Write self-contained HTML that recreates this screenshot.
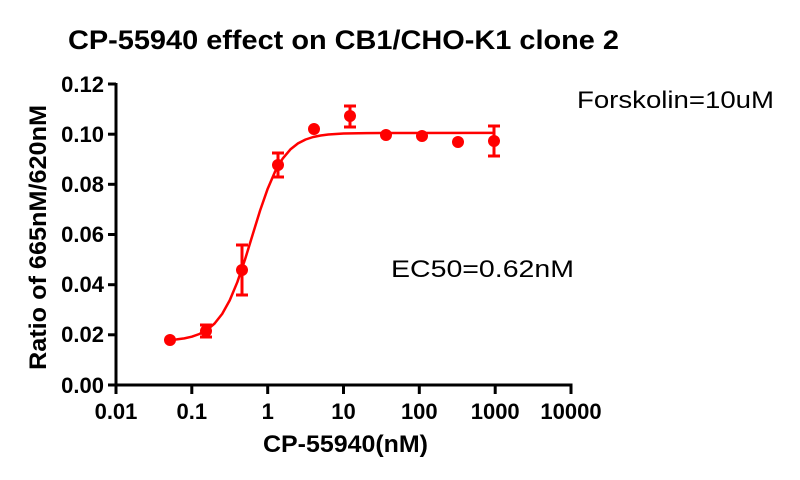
<!DOCTYPE html>
<html>
<head>
<meta charset="utf-8">
<style>
  html, body { margin: 0; padding: 0; background: #fff; }
  svg { display: block; }
  text { font-family: "Liberation Sans", Arial, sans-serif; fill: #000; }
</style>
</head>
<body>
<svg width="800" height="480" viewBox="0 0 800 480" xmlns="http://www.w3.org/2000/svg">
  <rect width="800" height="480" fill="#fff"/>

  <!-- Title -->
  <text x="68" y="49" font-size="27" font-weight="bold" textLength="551" lengthAdjust="spacingAndGlyphs">CP-55940 effect on CB1/CHO-K1 clone 2</text>

  <!-- Axes -->
  <g stroke="#000" stroke-width="3" fill="none" stroke-linecap="butt">
    <line x1="116" y1="83" x2="116" y2="394"/>
    <line x1="108" y1="385" x2="572" y2="385"/>
    <!-- y ticks -->
    <line x1="108" y1="84" x2="116" y2="84"/>
    <line x1="108" y1="134.2" x2="116" y2="134.2"/>
    <line x1="108" y1="184.3" x2="116" y2="184.3"/>
    <line x1="108" y1="234.5" x2="116" y2="234.5"/>
    <line x1="108" y1="284.7" x2="116" y2="284.7"/>
    <line x1="108" y1="334.8" x2="116" y2="334.8"/>
    <!-- x ticks -->
    <line x1="191.8" y1="385" x2="191.8" y2="394"/>
    <line x1="267.7" y1="385" x2="267.7" y2="394"/>
    <line x1="343.5" y1="385" x2="343.5" y2="394"/>
    <line x1="419.3" y1="385" x2="419.3" y2="394"/>
    <line x1="495.2" y1="385" x2="495.2" y2="394"/>
    <line x1="571" y1="383.5" x2="571" y2="394"/>
  </g>

  <!-- Y tick labels -->
  <g font-size="22" font-weight="bold" text-anchor="end">
    <text x="104" y="92">0.12</text>
    <text x="104" y="142">0.10</text>
    <text x="104" y="192">0.08</text>
    <text x="104" y="242">0.06</text>
    <text x="104" y="292">0.04</text>
    <text x="104" y="342">0.02</text>
    <text x="104" y="393">0.00</text>
  </g>

  <!-- X tick labels -->
  <g font-size="22" font-weight="bold" text-anchor="middle">
    <text x="116" y="419">0.01</text>
    <text x="191.8" y="419">0.1</text>
    <text x="267.7" y="419">1</text>
    <text x="343.5" y="419">10</text>
    <text x="419.3" y="419">100</text>
    <text x="495.2" y="419">1000</text>
    <text x="571" y="419">10000</text>
  </g>

  <!-- Axis titles -->
  <text x="263" y="452" font-size="24" font-weight="bold" textLength="165" lengthAdjust="spacingAndGlyphs">CP-55940(nM)</text>
  <text transform="translate(46,370) rotate(-90)" x="0" y="0" font-size="24" font-weight="bold" textLength="265" lengthAdjust="spacingAndGlyphs">Ratio of 665nM/620nM</text>

  <!-- Annotations -->
  <text x="577" y="108" font-size="24" textLength="197" lengthAdjust="spacingAndGlyphs">Forskolin=10uM</text>
  <text x="391" y="277" font-size="24" textLength="183" lengthAdjust="spacingAndGlyphs">EC50=0.62nM</text>

  <!-- Fitted curve -->
  <polyline fill="none" stroke="#ff0000" stroke-width="2.5" stroke-linejoin="round"
    points="169.9,340.0 176.7,339.4 184.3,338.35 191.8,336.7 199.4,334.0 207.0,329.9 214.6,323.5 222.2,313.9 229.7,300.4 237.3,282.2 244.9,259.9 252.5,235.1 260.1,210.5 267.7,188.7 275.2,171.3 282.8,158.4 290.4,149.4 298.0,143.4 305.6,139.5 313.2,137.0 320.7,135.5 328.3,134.5 343.5,133.5 366.3,133.1 400,132.95 494.9,132.9"/>

  <!-- Error bars -->
  <g stroke="#ff0000" stroke-width="3" fill="none">
    <line x1="206" y1="325" x2="206" y2="337"/>
    <line x1="200" y1="325" x2="212" y2="325"/>
    <line x1="200" y1="337" x2="212" y2="337"/>

    <line x1="242" y1="245" x2="242" y2="295"/>
    <line x1="236" y1="245" x2="248" y2="245"/>
    <line x1="236" y1="295" x2="248" y2="295"/>

    <line x1="278" y1="153" x2="278" y2="177"/>
    <line x1="272" y1="153" x2="284" y2="153"/>
    <line x1="272" y1="177" x2="284" y2="177"/>

    <line x1="350" y1="106" x2="350" y2="127"/>
    <line x1="344" y1="106" x2="356" y2="106"/>
    <line x1="344" y1="127" x2="356" y2="127"/>

    <line x1="494" y1="126" x2="494" y2="156"/>
    <line x1="488" y1="126" x2="500" y2="126"/>
    <line x1="488" y1="156" x2="500" y2="156"/>
  </g>

  <!-- Data points -->
  <g fill="#ff0000">
    <circle cx="170" cy="340" r="6"/>
    <circle cx="206" cy="331" r="6"/>
    <circle cx="242" cy="270" r="6"/>
    <circle cx="278" cy="165" r="6"/>
    <circle cx="314" cy="129" r="6"/>
    <circle cx="350" cy="116" r="6"/>
    <circle cx="386" cy="135" r="6"/>
    <circle cx="422" cy="136" r="6"/>
    <circle cx="458" cy="142" r="6"/>
    <circle cx="494" cy="141" r="6"/>
  </g>
</svg>
</body>
</html>
